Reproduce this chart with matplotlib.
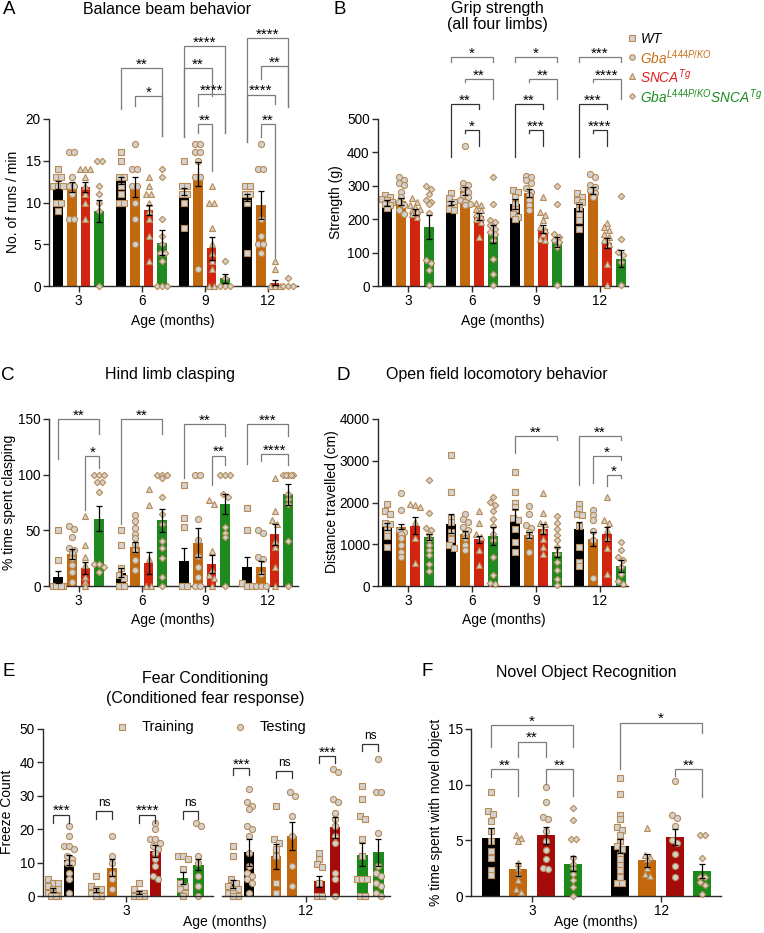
import numpy as np
import matplotlib
matplotlib.use("Agg")
import matplotlib.pyplot as plt

plt.rcParams['font.family'] = ['Liberation Sans', 'DejaVu Sans']
plt.rcParams['mathtext.fontset'] = 'custom'
plt.rcParams['mathtext.rm'] = 'Liberation Sans'
plt.rcParams['mathtext.it'] = 'Liberation Sans:italic'

W, H = 764, 933

# ---------------- data ----------------
ages4 = ['3', '6', '9', '12']
ages2 = ['3', '12']
genotypes = ['WT', 'Gba', 'SNCA', 'GbaSNCA']

# A: balance beam (runs / min), [age][genotype]
A_mean = [[12.1, 11.8, 11.9, 9.0], [12.6, 11.8, 9.1, 5.2], [11.3, 13.4, 4.5, 0.9], [10.6, 9.7, 0.4, 0.0]]
A_sem = [[0.5, 0.6, 0.6, 1.3], [0.4, 1.2, 0.6, 1.5], [0.4, 1.4, 1.4, 0.5], [0.4, 1.7, 0.3, 0.0]]
A_pts = [
    [[14, 13, 13, 12, 12, 12, 10, 10, 9], [16, 16, 13, 12, 12, 11, 8, 8],
     [14, 14, 14, 13, 12, 11, 10, 8], [15, 15, 12, 11, 10, 9, 0]],
    [[16, 15, 13, 13, 12, 11, 10, 10], [17, 14, 14, 12, 12, 10, 8, 5],
     [13, 12, 11, 11, 10, 9, 8, 6, 3], [14, 13, 8, 6, 5, 4, 4, 3, 0, 0, 0]],
    [[15, 12, 12, 11, 11, 10, 7], [17, 17, 16, 16, 15, 13, 13, 2],
     [12, 10, 10, 7, 5, 4, 3, 2, 0, 0], [3, 1, 0, 0, 0]],
    [[12, 12, 11, 11, 10, 4], [17, 14, 14, 8, 6, 5, 5, 4],
     [3, 2, 0, 0, 0], [1, 0, 0, 0]],
]

# B: grip strength (g)
B_mean = [[249, 254, 222, 177], [249, 284, 209, 157], [245, 277, 172, 131], [235, 285, 128, 82]]
B_sem = [[8, 10, 8, 35], [6, 12, 10, 27], [15, 12, 12, 15], [10, 10, 15, 25]]
B_pts = [
    [[272, 267, 259, 257, 252, 247, 242, 235], [327, 317, 307, 302, 282, 267, 252, 242, 227, 217],
     [262, 252, 242, 237, 232, 229, 225, 217, 207], [300, 290, 275, 258, 252, 245, 220, 78, 68, 48, 2]],
    [[277, 262, 252, 245, 237, 232, 227], [420, 307, 302, 292, 282, 272, 267, 257, 252, 247, 242],
     [249, 242, 232, 227, 217, 207, 202, 192, 147], [325, 245, 197, 192, 182, 172, 162, 157, 137, 82, 37, 2]],
    [[287, 282, 267, 247, 232, 217, 207, 202], [330, 327, 317, 307, 292, 282, 272, 257, 242, 227],
     [267, 222, 212, 197, 177, 167, 157, 142, 137], [300, 247, 157, 147, 137, 132, 117, 2]],
    [[277, 267, 257, 252, 242, 227, 212, 197, 172], [335, 327, 302, 297, 287, 277, 267],
     [189, 177, 167, 157, 147, 137, 127, 67, 2], [270, 142, 102, 92, 72, 2]],
]

# C: hind limb clasping (% time)
C_mean = [[8.1, 29, 16.2, 60.6], [12, 35, 20.7, 59], [22.7, 39, 19.6, 74], [17.2, 16.7, 46.3, 82.2]]
C_sem = [[5.4, 4.6, 5.4, 11], [4, 4.6, 10, 10.5], [11, 13, 8, 9], [9, 6, 9.5, 9.3]]
C_pts = [
    [[50, 23, 0, 0, 0, 0, 0], [54, 51, 44, 34, 32, 30, 25, 19, 13, 4],
     [63, 37, 26, 19, 8, 4, 0], [100, 100, 100, 93, 93, 84, 20, 20, 17, 13]],
    [[50, 37, 16, 10, 7, 0, 0], [64, 58, 52, 47, 43, 38, 32, 23, 14],
     [87, 73, 24, 0, 0], [100, 100, 100, 97, 80, 65, 56, 40, 34, 25, 8, 0]],
    [[91, 61, 53, 0, 0], [100, 100, 60, 41, 27, 17, 8, 0, 0],
     [77, 74, 31, 14, 10, 7, 0], [100, 100, 100, 83, 80, 53, 48, 44, 0]],
    [[70, 50, 3, 0, 0], [50, 48, 26, 24, 11, 0, 0, 0],
     [97, 67, 59, 56, 40, 35, 17, 0], [100, 100, 100, 100, 100, 83, 78, 74, 40, 0]],
]

# D: open field distance (cm)
D_mean = [[1432, 1416, 1448, 1176], [1496, 1240, 1120, 1192], [1656, 1216, 1368, 816], [1376, 1120, 1240, 472]]
D_sem = [[80, 60, 200, 80], [220, 80, 80, 220], [180, 70, 120, 120], [150, 170, 170, 140]]
D_pts = [
    [[1960, 1792, 1720, 1512, 1480, 1336, 1192, 936], [2216, 1816, 1352, 1296, 1256, 1160, 976, 816, 696],
     [1960, 1936, 1896, 1536, 1160, 560], [2536, 1760, 1400, 1336, 1256, 1096, 976, 856, 736, 536, 360]],
    [[3136, 2256, 1640, 1536, 1296, 1136, 976, 920], [1736, 1616, 1536, 1416, 1336, 1256, 1160, 976, 856],
     [1800, 1512, 1256, 1176, 856, 512], [2136, 2016, 1936, 1800, 1616, 1432, 1256, 1096, 696, 256, 72, 56]],
    [[2736, 2256, 2000, 1896, 1640, 1576, 1376, 1056, 816], [1920, 1736, 1456, 1392, 1296, 1176, 816],
     [2232, 1760, 1512, 1480, 1336, 1136, 936, 760], [1672, 1520, 1360, 1216, 1096, 936, 776, 576, 376, 176, 16]],
    [[1976, 1856, 1736, 1696, 1432, 936, 576, 480], [1816, 1696, 1592, 1312, 1096, 192],
     [2120, 1576, 1512, 1336, 1152, 912, 296], [1056, 856, 696, 632, 456, 280, 112, 56]],
]

# E: fear conditioning freeze count, [age][genotype]
E_train_mean = [[1.8, 1.8, 1.0, 5.4], [3.5, 11.9, 4.4, 12.4]]
E_train_sem = [[0.5, 0.7, 0.5, 1.7], [1.2, 3.7, 1.6, 3.5]]
E_test_mean = [[10.7, 8.5, 13.5, 9.4], [13.1, 18.0, 20.6, 13.1]]
E_test_sem = [[1.5, 2.6, 1.7, 1.6], [4.0, 4.1, 3.2, 4.0]]
E_train_pts = [
    [[5, 4, 4, 3, 2, 2, 1, 1, 0, 0, 0], [6, 3, 2, 2, 1, 1, 0, 0],
     [4, 2, 1, 1, 0, 0, 0, 0], [12, 12, 11, 8, 4, 3, 2, 1, 0]],
    [[15, 12, 5, 4, 3, 2, 2, 1, 1, 0, 0], [27, 17, 16, 14, 12, 4, 1],
     [13, 11, 9.5, 8.8, 4, 0, 0], [33, 29, 24, 23, 17, 12, 5, 5, 5, 0, 0]],
]
E_test_pts = [
    [[21, 18, 15, 15, 14, 12, 11, 10, 10, 7, 5, 1], [18, 12, 10, 7, 5, 2],
     [22, 20, 17, 17, 16, 15, 14, 13, 11, 9, 6, 5], [22, 21, 12, 10, 6, 3, 0]],
    [[32, 28, 27, 26, 21, 20, 18, 13, 9, 7, 6, 5, 4, 1], [31, 30, 24, 18, 9, 3],
     [38, 37, 29, 28, 25, 23, 21, 18, 16, 7, 5, 0], [41, 31, 31, 19, 9, 7, 6, 4, 3, 1, 0]],
]

# F: novel object recognition (% time)
F_mean = [[5.25, 2.4, 5.46, 2.9], [4.5, 3.2, 5.3, 2.25]]
F_sem = [[0.85, 0.6, 0.75, 0.65], [0.65, 0.6, 0.75, 0.6]]
F_pts = [
    [[9.3, 7.6, 7.4, 6.7, 5.8, 4.9, 4.0, 3.4, 2.3, 1.9], [5.5, 5.2, 4.9, 3.0, 2.5, 2.0, 1.4, 0.6, 0.4],
     [9.8, 8.4, 7.1, 6.9, 5.8, 4.9, 4.1, 3.3, 2.5, 2.4], [7.9, 6.8, 5.1, 5.1, 3.4, 2.9, 2.5, 2.0, 1.4, 0.8, 0.0]],
    [[10.6, 9.2, 7.3, 6.9, 6.2, 5.9, 5.5, 4.9, 4.5, 4.2, 3.7, 3.3, 2.8, 2.3, 1.7, 1.2, 1.2],
     [6.1, 3.7, 3.5, 3.3, 2.5, 2.0, 1.8],
     [10.3, 7.3, 7.0, 6.3, 5.0, 4.8, 3.8, 2.7, 1.7], [5.5, 5.5, 3.4, 1.7, 1.7, 1.3, 1.0, 0.2]],
]

# significance brackets: (age, bar_i, bar_j, top, left_end, right_end, label)
A_sig = [(1, 0, 3, 26.1, 21.2, 18.0, '**'), (1, 1, 3, 22.7, 21.5, 18.0, '*'),
         (2, 0, 3, 28.7, 17.8, 18.3, '****'), (2, 0, 2, 26.1, 17.8, 22.7, '**'),
         (2, 1, 3, 23.0, 21.5, 18.3, '****'), (2, 1, 2, 19.4, 18.3, 13.8, '**'),
         (3, 0, 3, 29.7, 17.3, 21.4, '****'), (3, 1, 3, 26.3, 24.8, 21.4, '**'),
         (3, 0, 2, 22.9, 17.3, 21.8, '****'), (3, 1, 2, 19.4, 17.9, 3.5, '**')]
B_sig = []
for g, s1, s2, s3, s4 in [(1, '*', '**', '**', '*'), (2, '*', '**', '**', '***'), (3, '***', '****', '***', '****')]:
    B_sig += [(g, 0, 3, 685, 672, 672, s1), (g, 1, 3, 619, 612, 560, s2),
              (g, 0, 2, 545, 387, 529, s3), (g, 1, 2, 467, 457, 420, s4)]
C_sig = [(0, 0, 3, 150, 113.7, 136.5, '**'), (0, 2, 3, 116.7, 68, 105.6, '*'),
         (1, 0, 3, 150, 56, 136.5, '**'),
         (2, 0, 3, 145.5, 96.6, 135, '**'), (2, 2, 3, 117, 90.6, 108.6, '**'),
         (3, 0, 3, 145.5, 109.5, 135, '***'), (3, 1, 3, 118.5, 112, 108.6, '****')]
D_sig = [(2, 0, 3, 3592, 3176, 3496, '**'), (3, 0, 3, 3592, 2416, 3496, '**'),
         (3, 1, 3, 3112, 2456, 3016, '*'), (3, 2, 3, 2656, 2392, 2576, '*')]
E_sig = [(0, 0, 24.3, 21.8, '***'), (0, 1, 25.5, 23.0, 'ns'), (0, 2, 24.3, 21.8, '****'), (0, 3, 25.5, 23.0, 'ns'),
         (1, 0, 38.2, 36.2, '***'), (1, 1, 37.4, 35.4, 'ns'), (1, 2, 41.9, 39.9, '***'), (1, 3, 45.5, 43.5, 'ns')]
F_sig = [(0, 0, 3, 15.36, 13.35, 13.35, '*'), (0, 1, 2, 13.86, 12.5, 12.5, '**'),
         (0, 0, 1, 11.37, 10.7, 9.0, '**'), (0, 2, 3, 11.37, 10.1, 9.0, '**'),
         (1, 0, 3, 15.57, 11.37, 14.6, '*'), (1, 2, 3, 11.37, 10.8, 8.9, '**')]

# ---------------- style ----------------
COL = ['#000000', '#c2680e', '#d2250f', '#1f8a1f']
COL_EF = ['#000000', '#c4670c', '#a50b0b', '#1a8a1a']
FACE = '#d2d2d2'
EDGE = '#b98a52'
MK = ['s', 'o', '^', 'D']
MK_F = ['s', '^', 'o', 'D']
MS = {'s': 4.2, 'o': 4.4, '^': 4.4, 'D': 3.3}
AX_COL = '#2a2a2a'
BR_COL = '#7c7c7c'

fig = plt.figure(figsize=(W / 100, H / 100), dpi=100)


def px_axes(x0, x1, ytop, ybot):
    return fig.add_axes([x0 / W, 1 - ybot / H, (x1 - x0) / W, (ybot - ytop) / H])


def swarm(vals, dy, dx, maxn=3):
    # group nearly equal values into short rows and spread each row symmetrically
    order = np.argsort(-np.asarray(vals, float), kind='stable')
    offs = np.zeros(len(vals))
    rows = []
    for idx in order:
        v = vals[idx]
        if rows and abs(vals[rows[-1][0]] - v) < dy and len(rows[-1]) < maxn:
            rows[-1].append(idx)
        else:
            rows.append([idx])
    for r in rows:
        n = len(r)
        for i, idx in enumerate(r):
            offs[idx] = (i - (n - 1) / 2) * dx
    return offs


def marker_steps(ax):
    pos = ax.get_position()
    x0, x1 = ax.get_xlim()
    y0, y1 = ax.get_ylim()
    dx = 5.0 / (pos.width * W) * (x1 - x0)
    dy = 4.0 / (pos.height * H) * (y1 - y0)
    return dy, dx


def style(ax, xlim, ylim, yticks, xticks, xlabels, bottom=True):
    ax.set_xlim(*xlim)
    ax.set_ylim(*ylim)
    ax.set_yticks(yticks)
    ax.set_xticks(xticks)
    ax.set_xticklabels(xlabels)
    for s in ['top', 'right']:
        ax.spines[s].set_visible(False)
    for s in ['left', 'bottom']:
        ax.spines[s].set_color(AX_COL)
        ax.spines[s].set_linewidth(1.0)
    if not bottom:
        ax.spines['bottom'].set_visible(False)
    ax.tick_params(direction='out', length=4, width=1.0, color=AX_COL, labelsize=9.8, pad=2)
    ax.patch.set_alpha(0)


def draw_points(ax, x, vals, marker, dy, dx):
    offs = swarm(vals, dy, dx)
    ax.plot(x + offs, vals, ls='none', marker=marker, ms=MS[marker], mfc=FACE, mec=EDGE,
            mew=0.8, zorder=4, clip_on=False)


def draw_bar(ax, x, m, s, w, c):
    ax.bar(x, m, w, color=c, zorder=2, linewidth=0)
    if s > 0:
        ax.errorbar(x, m, yerr=s, color='k', lw=0.9, capsize=2.2, capthick=0.9, zorder=5)


def grouped(ax, means, sems, pts, colors, markers, sp, w):
    dy, dx = marker_steps(ax)
    for g in range(len(means)):
        for k in range(4):
            x = g + (k - 1.5) * sp
            draw_bar(ax, x, means[g][k], sems[g][k], w, colors[k])
            draw_points(ax, x, pts[g][k], markers[k], dy, dx)


def bracket(ax, x1, x2, top, lb, rb, txt, lc=BR_COL):
    ax.plot([x1, x1, x2, x2], [lb, top, top, rb], color=lc, lw=0.9, clip_on=False, zorder=6,
            solid_joinstyle='miter')
    yr = ax.get_ylim()[1]
    if txt == 'ns':
        ax.text((x1 + x2) / 2, top + yr * 0.01, txt, ha='center', va='bottom',
                fontsize=8.5, clip_on=False, zorder=6)
    else:
        ax.text((x1 + x2) / 2, top - yr * 0.02, txt, ha='center', va='bottom',
                fontsize=11, clip_on=False, zorder=6)


def sigs(ax, sig, sp, lc=BR_COL):
    for g, i, j, top, lb, rb, txt in sig:
        bracket(ax, g + (i - 1.5) * sp, g + (j - 1.5) * sp, top, lb, rb, txt, lc)


SP4, W4 = 0.217, 0.155

# A
axA = px_axes(49, 298, 119, 286)
style(axA, (-0.47, 3.48), (0, 20), [0, 5, 10, 15, 20], range(4), ages4)
grouped(axA, A_mean, A_sem, A_pts, COL, MK, SP4, W4)
sigs(axA, A_sig, SP4)

# B
axB = px_axes(378, 628, 119, 286)
style(axB, (-0.47, 3.44), (0, 500), [0, 100, 200, 300, 400, 500], range(4), ages4)
grouped(axB, B_mean, B_sem, B_pts, COL, MK, SP4, W4)
for g, i, j, top, lb, rb, txt in B_sig:
    lc = BR_COL if top > 600 else '#333333'
    bracket(axB, g + (i - 1.5) * SP4, g + (j - 1.5) * SP4, top, lb, rb, txt, lc)

# C
axC = px_axes(49, 298, 419, 586)
style(axC, (-0.47, 3.48), (0, 150), [0, 50, 100, 150], range(4), ages4)
grouped(axC, C_mean, C_sem, C_pts, COL, MK, SP4, W4)
sigs(axC, C_sig, SP4)

# D
axD = px_axes(378, 628, 419, 586)
style(axD, (-0.47, 3.44), (0, 4000), [0, 1000, 2000, 3000, 4000], range(4), ages4)
grouped(axD, D_mean, D_sem, D_pts, COL, MK, SP4, W4)
sigs(axD, D_sig, SP4)

# E
axE = px_axes(43, 390, 729, 896)
style(axE, (-0.461, 1.467), (0, 50), [0, 10, 20, 30, 40, 50], [0, 1], ages2, bottom=False)
axE.plot([-0.461, 0.483], [0, 0], color=AX_COL, lw=1.0, clip_on=False, zorder=7)
axE.plot([0.533, 1.467], [0, 0], color=AX_COL, lw=1.0, clip_on=False, zorder=7)
dyE, dxE = marker_steps(axE)
SPE, HALF, WE = 0.239, 0.0444, 0.056
for g in range(2):
    for k in range(4):
        xc = g + (k - 1.5) * SPE
        draw_bar(axE, xc - HALF, E_train_mean[g][k], E_train_sem[g][k], WE, COL_EF[k])
        draw_bar(axE, xc + HALF, E_test_mean[g][k], E_test_sem[g][k], WE, COL_EF[k])
        draw_points(axE, xc - HALF, E_train_pts[g][k], 's', dyE, dxE)
        draw_points(axE, xc + HALF, E_test_pts[g][k], 'o', dyE, dxE)
for g, k, top, lb, txt in E_sig:
    xc = g + (k - 1.5) * SPE
    bracket(axE, xc - HALF, xc + HALF, top, lb, lb, txt, '#333333')

# F
axF = px_axes(471, 721, 729, 896)
style(axF, (-0.473, 1.465), (0, 15), [0, 5, 10, 15], [0, 1], ages2)
grouped(axF, F_mean, F_sem, F_pts, COL_EF, MK_F, 0.213, 0.14)
sigs(axF, F_sig, 0.213)

# ---------------- text overlay (pixel coords) ----------------
ov = fig.add_axes([0, 0, 1, 1], zorder=10)
ov.set_xlim(0, W)
ov.set_ylim(H, 0)
ov.axis('off')

for letter, x, y in [('A', 9, 9), ('B', 340, 9), ('C', 8, 375), ('D', 343, 375), ('E', 9, 671), ('F', 427, 671)]:
    ov.text(x, y, letter, fontsize=13.5, ha='center', va='center')

ov.text(167, 9, 'Balance beam behavior', fontsize=11.5, ha='center', va='center')
ov.text(497, 9, 'Grip strength', fontsize=11.5, ha='center', va='center')
ov.text(497, 25, '(all four limbs)', fontsize=11.5, ha='center', va='center')
ov.text(170, 375, 'Hind limb clasping', fontsize=11.5, ha='center', va='center')
ov.text(497, 375, 'Open field locomotory behavior', fontsize=11.5, ha='center', va='center')
ov.text(205, 678, 'Fear Conditioning', fontsize=11.5, ha='center', va='center')
ov.text(205, 699, '(Conditioned fear response)', fontsize=11.5, ha='center', va='center')
ov.text(586, 673, 'Novel Object Recognition', fontsize=11.5, ha='center', va='center')

for x, y in [(173, 321), (503, 321), (173, 620), (504, 620), (225, 922), (596, 922)]:
    ov.text(x, y, 'Age (months)', fontsize=10, ha='center', va='center')

for x, y, txt in [(13, 202, 'No. of runs / min'), (336, 202, 'Strength (g)'),
                  (9, 502, '% time spent clasping'), (332, 502, 'Distance travelled (cm)'),
                  (7, 812, 'Freeze Count'), (436, 812, '% time spent with novel object')]:
    ov.text(x, y, txt, fontsize=10, ha='center', va='center', rotation=90)

# genotype legend (panel B)
leg_txt = [r'$\mathit{WT}$', r'$\mathit{Gba}^{\mathit{L444P/KO}}$', r'$\mathit{SNCA}^{\mathit{Tg}}$',
           r'$\mathit{Gba}^{\mathit{L444P/KO}}\mathit{SNCA}^{\mathit{Tg}}$']
leg_col = ['#000000', '#c8701a', '#e0201a', '#1a8a1a']
for k, y in enumerate([38, 57, 76, 96]):
    ov.plot(632, y, marker=MK[k], ms=MS[MK[k]] * 0.9, mfc=FACE, mec=EDGE, mew=0.8, ls='none')
    ov.text(640, y + 1, leg_txt[k], fontsize=9.8, color=leg_col[k], ha='left', va='center')

# training / testing legend (panel E)
ov.plot(122, 727, marker='s', ms=4.2, mfc=FACE, mec=EDGE, mew=0.8, ls='none')
ov.text(142, 727, 'Training', fontsize=10.5, ha='left', va='center')
ov.plot(240, 727, marker='o', ms=4.4, mfc=FACE, mec=EDGE, mew=0.8, ls='none')
ov.text(260, 727, 'Testing', fontsize=10.5, ha='left', va='center')

fig.savefig('out.png', dpi=100)
